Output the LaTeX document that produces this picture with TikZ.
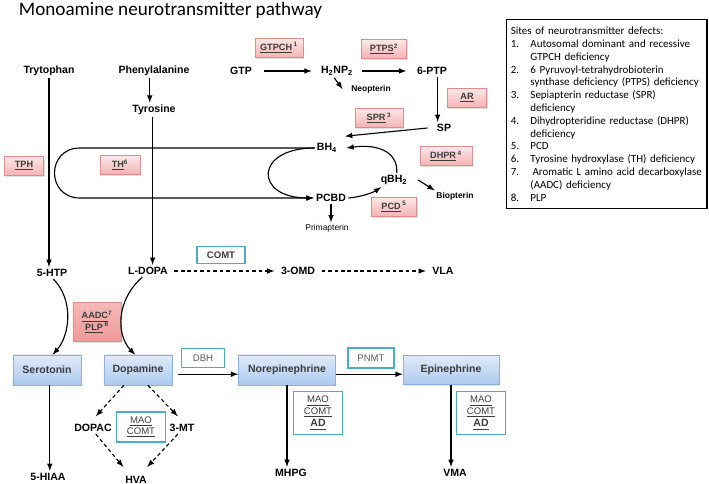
\documentclass[tikz,border=0pt]{standalone}
\usepackage{fontspec}
\setmainfont{Liberation Sans}
\newfontfamily\calibri{Carlito}
\usetikzlibrary{shadows}

\definecolor{enzymeborder}{RGB}{222,140,140}
\definecolor{enzymetop}{RGB}{253,232,232}
\definecolor{enzymebottom}{RGB}{243,178,178}
\definecolor{aadctop}{RGB}{246,186,186}
\definecolor{aadcbottom}{RGB}{238,152,152}
\definecolor{aminetop}{RGB}{224,235,250}
\definecolor{aminebottom}{RGB}{172,201,238}
\definecolor{amineborder}{RGB}{140,176,222}
\definecolor{helperborder}{RGB}{75,172,198}
\definecolor{labeltext}{RGB}{60,60,60}

\begin{document}
\begin{tikzpicture}[
    x=0.025cm, y=-0.025cm, >=latex,
    % Metabolite label style
    metabolite/.style={font=\bfseries\fontsize{7.5}{9}\selectfont, inner sep=1.5pt},
    % Side product label style
    side product/.style={font=\bfseries\fontsize{6}{7}\selectfont, inner sep=1pt},
    % Enzyme defect box (pink)
    enzyme/.style={
        rectangle, draw=enzymeborder, top color=enzymetop, bottom color=enzymebottom,
        drop shadow={opacity=0.25, shadow xshift=0.7pt, shadow yshift=-0.7pt},
        minimum width=1.13cm, minimum height=0.48cm, inner sep=2pt,
        text=labeltext, font=\bfseries\fontsize{6.5}{8}\selectfont, align=center
    },
    % Monoamine box (blue)
    amine/.style={
        rectangle, draw=amineborder, top color=aminetop, bottom color=aminebottom,
        drop shadow={opacity=0.2, shadow xshift=0.7pt, shadow yshift=-0.7pt},
        minimum width=1.7cm, minimum height=0.75cm,
        text=labeltext, font=\bfseries\fontsize{7.5}{9}\selectfont
    },
    % Degrading / converting enzyme box (cyan)
    helper/.style={
        rectangle, draw=helperborder, line width=1.2pt, fill=white,
        minimum width=1.15cm, minimum height=0.48cm, inner sep=2pt,
        text=labeltext, font=\fontsize{6.8}{8}\selectfont, align=center
    },
    % Reaction arrows
    reaction/.style={->, thick},
    minor route/.style={->, thick, dash pattern=on 2.6pt off 2pt}
]
\useasboundingbox (0,0) rectangle (709,484);

% --- Title and legend ---
\node[anchor=base west, font=\calibri\fontsize{13.6}{16}\selectfont] (title) at (14,16)
    {Monoamine neurotransmitter pathway};
\node[draw, thick, anchor=north west, text width=4.8cm, inner xsep=3pt,
      minimum height=4.73cm, align=left, font=\calibri\fontsize{7.8}{9.1}\selectfont] (legend) at (506,19)
    {Sites of neurotransmitter defects:\\
     \makebox[14pt][l]{1.}Autosomal dominant and recessive\\
     \hspace*{14pt}GTPCH deficiency\\
     \makebox[14pt][l]{2.}6 Pyruvoyl-tetrahydrobioterin\\
     \hspace*{14pt}synthase deficiency (PTPS) deficiency\\
     \makebox[14pt][l]{3.}Sepiapterin reductase (SPR)\\
     \hspace*{14pt}deficiency\\
     \makebox[14pt][l]{4.}Dihydropteridine reductase (DHPR)\\
     \hspace*{14pt}deficiency\\
     \makebox[14pt][l]{5.}PCD\\
     \makebox[14pt][l]{6.}Tyrosine hydroxylase (TH) deficiency\\
     \mbox{\makebox[14pt][l]{7.}\hspace{1.5pt}Aromatic L amino acid decarboxylase}\\
     \hspace*{14pt}(AADC) deficiency\\
     \makebox[14pt][l]{8.}PLP};

% --- Precursors and pterin cycle ---
\node[metabolite] (trp) at (49,71) {Trytophan};
\node[metabolite] (phe) at (154,71) {Phenylalanine};
\node[metabolite] (tyr) at (154,110) {Tyrosine};
\node[metabolite] (gtp) at (241,71) {GTP};
\node[metabolite] (hnp) at (337,71) {H\textsubscript{2}NP\textsubscript{2}};
\node[metabolite] (ptp) at (432,71) {6-PTP};
\node[side product] (neo) at (371,89) {Neopterin};
\node[metabolite] (sp) at (444,128) {SP};
\node[metabolite] (bh4) at (327,148) {BH\textsubscript{4}};
\node[metabolite] (qbh) at (394,180) {qBH\textsubscript{2}};
\node[side product] (bio) at (455,196) {Biopterin};
\node[metabolite] (pcbd) at (331,198) {PCBD};
\node[side product, font=\fontsize{6}{7}\selectfont] (prim) at (327,228) {Primapterin};

\node[enzyme, minimum width=1.2cm] (gtpch) at (279,48) {\underline{GTPCH}\,\textsuperscript{1}};
\node[enzyme] (ptps) at (384,49) {\underline{PTPS}\textsuperscript{2}};
\node[enzyme, minimum width=0.98cm] (ar) at (467,98) {\underline{AR}};
\node[enzyme, minimum width=1.2cm] (spr) at (379,118) {\underline{SPR}\,\textsuperscript{3}};
\node[enzyme, minimum width=1.3cm] (dhpr) at (446,156) {\underline{DHPR}\,\textsuperscript{4}};
\node[enzyme] (pcd) at (394,207) {\underline{PCD}\,\textsuperscript{5}};
\node[enzyme, minimum width=0.98cm] (tph) at (24,166) {\underline{TPH}};
\node[enzyme, minimum width=1cm] (th) at (120,165) {\underline{TH}\textsuperscript{6}};

\draw[reaction, shorten <=7pt, shorten >=5pt] (gtp.east) -- (gtp.east -| hnp.west);
\draw[reaction, shorten <=5pt, shorten >=6pt] (hnp.east) -- (hnp.east -| ptp.west);
\draw[reaction] ([xshift=-2pt]hnp.south) -- ([xshift=-5pt]neo.west);
\draw[reaction] ([xshift=4pt]ptp.south) -- ([xshift=4pt]ptp.south |- sp.north);
\draw[reaction] ([xshift=-5pt]sp.west) -- ([shift={(4pt,3.5pt)}]bh4.north east);
\draw[reaction] ([xshift=2pt]qbh.north) .. controls (398,150) and (375,144) .. ([xshift=5pt]bh4.east);
\draw[reaction] (pcbd.east) .. controls (362,197) and (374,192) .. ([xshift=2pt]qbh.south west);
\draw[reaction] ([xshift=6pt]qbh.east) -- (bio.north west);
\draw[reaction] (pcbd.south) -- (pcbd.south |- prim.north);

% BH4 loops
\coordinate (looptop) at (80,148);
\coordinate (loopbot) at (80,198);
\draw[reaction] (bh4.west) -- (looptop) .. controls (46,148) and (46,198) .. (loopbot) -- (pcbd.west);
\draw[reaction] (bh4.west) .. controls (254,148) and (254,198) .. (pcbd.west);

\draw[reaction] ([xshift=-3pt]phe.south) -- ([xshift=-3pt]phe.south |- tyr.north);

% --- Aromatic amino acid hydroxylation and decarboxylation ---
\node[metabolite] (htp) at (52,273) {5-HTP};
\node[metabolite] (ldopa) at (148,271) {L-DOPA};
\node[metabolite] (omd) at (298,271) {3-OMD};
\node[metabolite] (vla) at (443,271) {VLA};
\node[helper, font=\bfseries\fontsize{6.8}{8}\selectfont, minimum width=1.2cm, minimum height=0.43cm] (comt) at (221,255) {COMT};

\draw[reaction] (trp.south) -- (trp.south |- htp.north);
\draw[reaction] ([xshift=-1pt]tyr.south) -- ([xshift=-1pt]tyr.south |- ldopa.north);
\draw[minor route, shorten <=3pt, shorten >=3pt] (ldopa.east) -- (omd.west);
\draw[minor route, shorten <=3pt, shorten >=3pt] (omd.east) -- (vla.west);

\node[enzyme, top color=aadctop, bottom color=aadcbottom, minimum width=1.2cm, minimum height=0.98cm]
    (aadc) at (97,322) {\underline{AADC}\textsuperscript{7}\\\underline{PLP}\,\textsuperscript{8}};

% --- Monoamines ---
\node[amine] (serotonin) at (47,370) {Serotonin};
\node[amine] (dopamine) at (138,370) {Dopamine};
\node[amine, minimum width=2.42cm] (norepi) at (287,370) {Norepinephrine};
\node[amine, minimum width=2.4cm, minimum height=0.73cm] (epi) at (451,370) {Epinephrine};
\node[helper, text={rgb,255:red,90;green,90;blue,90}, minimum width=1.08cm] (dbh) at (203,358) {DBH};
\node[helper, text={rgb,255:red,90;green,90;blue,90}, minimum height=0.5cm] (pnmt) at (371,358) {PNMT};

\draw[reaction] ([xshift=1pt]htp.south) .. controls (74,300) and (70,335) .. ([xshift=4pt]serotonin.north);
\draw[reaction] ([xshift=-4pt]ldopa.south) .. controls (116,300) and (116,335) .. ([xshift=-2pt]dopamine.north);
\draw[reaction, shorten <=4pt] ([yshift=-3pt]dopamine.east) -- ([yshift=-3pt]norepi.west);
\draw[reaction] ([yshift=-3pt]norepi.east) -- ([yshift=-3pt]epi.west);

% --- Breakdown products ---
\node[metabolite] (hiaa) at (48,477) {5-HIAA};
\node[metabolite] (dopac) at (93,428) {DOPAC};
\node[metabolite] (mt) at (182,428) {3-MT};
\node[metabolite] (hva) at (136,480) {HVA};
\node[metabolite] (mhpg) at (291,473) {MHPG};
\node[metabolite] (vma) at (455,473) {VMA};

\node[helper, minimum width=1.23cm, minimum height=0.75cm] (maoda) at (141,427)
    {\underline{MAO}\\\underline{COMT}};
\node[helper, minimum width=1.23cm, minimum height=1.08cm] (maone) at (318,413)
    {\underline{MAO}\\\underline{COMT}\\[1pt]{\bfseries\fontsize{7.5}{9}\selectfont\underline{AD}}};
\node[helper, minimum width=1.23cm, minimum height=1.08cm] (maoep) at (481,413)
    {\underline{MAO}\\\underline{COMT}\\[1pt]{\bfseries\fontsize{7.5}{9}\selectfont\underline{AD}}};

\draw[reaction] ([xshift=2pt]serotonin.south) -- ([xshift=2pt]serotonin.south |- hiaa.north);
\draw[minor route] ([xshift=-10pt]dopamine.south) -- ([xshift=2pt,yshift=4pt]dopac.north);
\draw[minor route] ([xshift=7pt]dopamine.south) -- ([xshift=-3pt,yshift=4pt]mt.north);
\draw[minor route] ([xshift=2pt]dopac.south) -- ([xshift=-9pt,yshift=5pt]hva.north);
\draw[minor route] ([xshift=-3pt]mt.south) -- ([xshift=8pt,yshift=5pt]hva.north);
\draw[reaction] (norepi.south) -- (norepi.south |- mhpg.north);
\draw[reaction] (epi.south) -- (epi.south |- vma.north);

\end{tikzpicture}
\end{document}
